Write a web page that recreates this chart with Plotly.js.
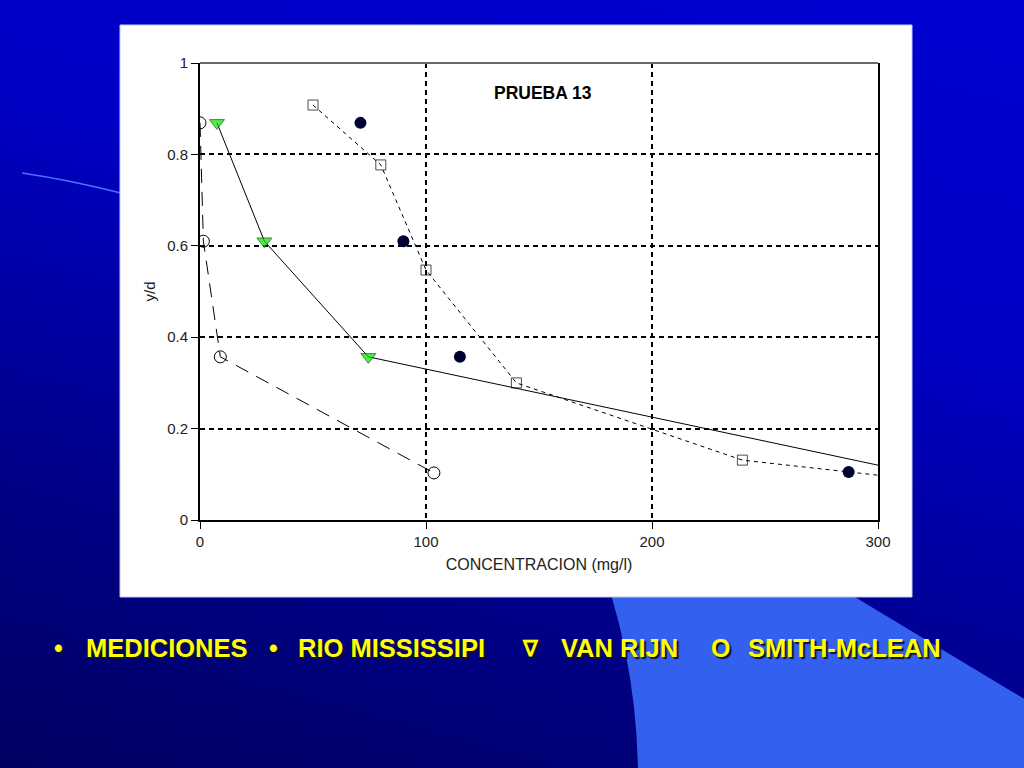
<!DOCTYPE html>
<html>
<head>
<meta charset="utf-8">
<script src="https://cdn.plot.ly/plotly-3.0.1.min.js"></script>
<style>
  html, body { margin: 0; padding: 0; }
  body {
    width: 1024px; height: 768px; overflow: hidden;
    background: linear-gradient(195deg, #0000d2 0%, #0000c4 35%, #00008a 70%, #000062 100%);
  }
  #chart { width: 1024px; height: 768px; }
</style>
</head>
<body>
<div id="chart"></div>
<script>
// y/d vs concentration, PRUEBA 13
var med_x = [71, 90, 115, 287]
var med_y = [0.869, 0.61, 0.357, 0.105]

var rio_x = [50, 80, 100, 140, 240, 300]
var rio_y = [0.908, 0.777, 0.547, 0.30, 0.131, 0.098]

var vr_x = [7.5, 28.5, 74.5, 300]
var vr_y = [0.869, 0.61, 0.357, 0.12]

var sm_x = [0, 1.5, 9, 103.5]
var sm_y = [0.869, 0.61, 0.357, 0.103]

var x_ticks = [0, 100, 200, 300]
var y_ticks = [0, 0.2, 0.4, 0.6, 0.8, 1]
var y_tick_text = ["0", "0.2", "0.4", "0.6", "0.8", "1"]

var legend_marks = ["\u2022", "\u2022", "\u2207", "O"]
var legend_names = ["MEDICIONES", "RIO MISSISSIPI", "VAN RIJN", "SMITH-McLEAN"]

// plot area in pixels: x 200..878, y 63..520
function px(x){ return (x - 200) / 678 }
function py(y){ return (520 - y) / 457 }

var traces = [
    {
        x: sm_x, y: sm_y, name: "SMITH-McLEAN", mode: "lines+markers",
        line: {color: "#000", width: 1, dash: "14px,9px"},
        marker: {symbol: "circle-open", size: 12, color: "#000", line: {width: 1}}
    },
    {
        x: rio_x, y: rio_y, name: "RIO MISSISSIPI", mode: "lines+markers",
        line: {color: "#000", width: 1, dash: "4px,4px"},
        marker: {symbol: "square-open", size: [10, 10, 10, 10, 10, 0], color: "#000", line: {width: 1}}
    },
    {
        x: vr_x, y: vr_y, name: "VAN RIJN", mode: "lines+markers",
        line: {color: "#000", width: 1},
        marker: {symbol: "triangle-down", size: [13, 13, 13, 0], color: "#00e600", line: {color: "#005000", width: 1}}
    },
    {
        x: med_x, y: med_y, name: "MEDICIONES", mode: "markers",
        marker: {symbol: "circle", size: 12, color: "#000033", line: {width: 0}}
    }
]

var shapes = [
    {   // light blue slide shape, bottom right
        type: "path", xref: "paper", yref: "paper", layer: "below",
        path: "M " + px(592) + "," + py(540) +
              " Q " + px(636) + "," + py(650) + " " + px(638) + "," + py(770) +
              " L " + px(1026) + "," + py(770) +
              " L " + px(1026) + "," + py(700) +
              " L " + px(820) + "," + py(576) + " Z",
        fillcolor: "#3360ee", line: {width: 0}
    },
    {   // thin curve on the left
        type: "path", xref: "paper", yref: "paper", layer: "below",
        path: "M " + px(22) + "," + py(173) + " Q " + px(70) + "," + py(180) + " " + px(125) + "," + py(194),
        line: {color: "#4d70ff", width: 1.5}
    },
    {   // white chart box
        type: "rect", xref: "paper", yref: "paper", layer: "below",
        x0: px(120), x1: px(912), y0: py(597), y1: py(25),
        fillcolor: "#ffffff", line: {color: "#c8c8f0", width: 1}
    },
    {   // grey top border
        type: "line", xref: "paper", yref: "paper",
        x0: 0, x1: 1, y0: 1, y1: 1,
        line: {color: "#6a6a6a", width: 2}
    }
]

var annotations = [
    {
        text: "<b>PRUEBA 13</b>", xref: "paper", yref: "paper",
        x: px(543), y: py(93), xanchor: "center", yanchor: "middle", showarrow: false,
        font: {family: "Arial, Liberation Sans", size: 17.5, color: "#000"}
    }
]

// text legend under the chart
var mark_x = [58, 273, 530, 720]
var name_x = [84, 296, 559, 746]
for (var i = 0; i < legend_names.length; i++){
    annotations.push({
        text: "<b>" + legend_marks[i] + "</b>", xref: "paper", yref: "paper",
        x: px(mark_x[i]), y: py(648), xanchor: "center", yanchor: "middle", showarrow: false,
        font: {family: "Arial, Liberation Sans", size: i == 2 ? 22 : 25, color: "#ffff00", shadow: "2px 2px 1px #111133"}
    })
    annotations.push({
        text: "<b>" + legend_names[i] + "</b>", xref: "paper", yref: "paper",
        x: px(name_x[i]), y: py(648), xanchor: "left", yanchor: "middle", showarrow: false,
        font: {family: "Arial, Liberation Sans", size: 25.5, color: "#ffff00", shadow: "2px 2px 1px #111133"}
    })
}

var layout = {
    width: 1024, height: 768,
    margin: {l: 200, r: 146, t: 63, b: 248},
    paper_bgcolor: "rgba(0,0,0,0)",
    plot_bgcolor: "#ffffff",
    showlegend: false,
    font: {family: "Arial, Liberation Sans", color: "#222"},
    xaxis: {
        range: [0, 300], tickvals: x_ticks, ticks: "outside", ticklen: 7, tickcolor: "#000",
        showline: true, linecolor: "#000", linewidth: 2, mirror: false,
        showgrid: true, gridcolor: "#000", gridwidth: 2, griddash: "5px,4px",
        zeroline: false, tickfont: {size: 15, color: "#222"},
        title: {text: "CONCENTRACION (mg/l)", font: {size: 16, color: "#222"}, standoff: 10}
    },
    yaxis: {
        range: [0, 1], tickvals: y_ticks, ticktext: y_tick_text, ticks: "outside", ticklen: 7, tickcolor: "#000",
        showline: true, linecolor: "#000", linewidth: 2, mirror: true,
        showgrid: true, gridcolor: "#000", gridwidth: 2, griddash: "5px,4px",
        zeroline: false, tickfont: {size: 15, color: "#222"},
        title: {text: "y/d", font: {size: 15, color: "#222"}, standoff: 8}
    },
    shapes: shapes,
    annotations: annotations
}

Plotly.newPlot("chart", traces, layout, {displayModeBar: false, staticPlot: true})
</script>
</body>
</html>
